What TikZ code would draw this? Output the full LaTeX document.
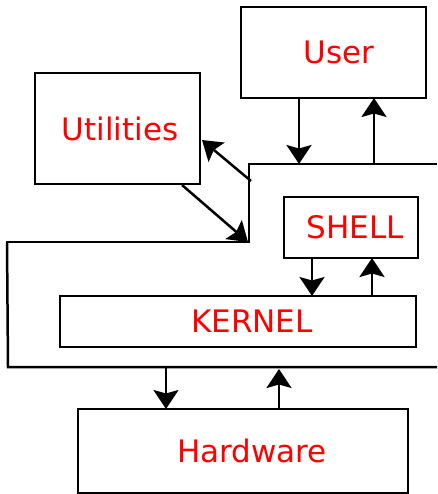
\documentclass[tikz,border=0pt]{standalone}
\usepackage{fontspec}
\setmainfont{DejaVu Sans}
\usetikzlibrary{arrows.meta}
\tikzset{
  box/.style={draw=black,line width=2.5pt,rectangle,inner sep=0pt,outer sep=0pt,
    font=\fontsize{31}{37}\selectfont,text=red},
  arr/.style={line width=2.5pt,-{Stealth[length=19pt,width=25pt,inset=3.5pt]}},
  wire/.style={line width=2.5pt,line join=miter}}
\begin{document}
\begin{tikzpicture}[x=1pt,y=-1pt]
\useasboundingbox (0,0) rectangle (437,494);
% boxes
\node[box,minimum width=185pt,minimum height=91pt] (user) at (333.5,52.5) {\hspace*{11pt}User};
\node[box,minimum width=165pt,minimum height=111pt] (util) at (117.5,128.5) {\hspace*{5pt}Utilities};
\node[box,minimum width=134pt,minimum height=61pt] (shell) at (351,227.5) {\hspace*{8pt}SHELL};
\node[box,minimum width=356pt,minimum height=51pt] (kernel) at (238,321.5) {\hspace*{28pt}KERNEL};
\node[box,minimum width=330pt,minimum height=84pt] (hw) at (243,451) {\hspace*{18pt}Hardware};
% outline
\draw[wire] (437,164) -- (249,164) -- (249,242) -- (6,242);
\draw[wire] (7,242) -- (8,367) -- (437,367);
% named points on the outline
\coordinate (u1) at (299,164);
\coordinate (u2) at (374,164);
\coordinate (c1) at (251,181);
\coordinate (c2) at (248,242);
\coordinate (h1) at (166,367);
\coordinate (h2) at (279,369);
% connectors
\draw[arr] (u1 |- user.south) -- (u1);
\draw[arr] (u2) -- (u2 |- user.south);
\draw[arr] (c1) -- ([shift={(2,11.5)}]util.east);
\draw[arr] ([shift={(-18,1)}]util.south east) -- (c2);
\draw[arr] ([xshift=-39pt]shell.south) -- ([xshift=-39pt]shell.south |- kernel.north);
\draw[arr] ([xshift=21pt]shell.south |- kernel.north) -- ([xshift=21pt]shell.south);
\draw[arr] (h1) -- (h1 |- hw.north);
\draw[arr] (h2 |- hw.north) -- (h2);
\end{tikzpicture}
\end{document}
